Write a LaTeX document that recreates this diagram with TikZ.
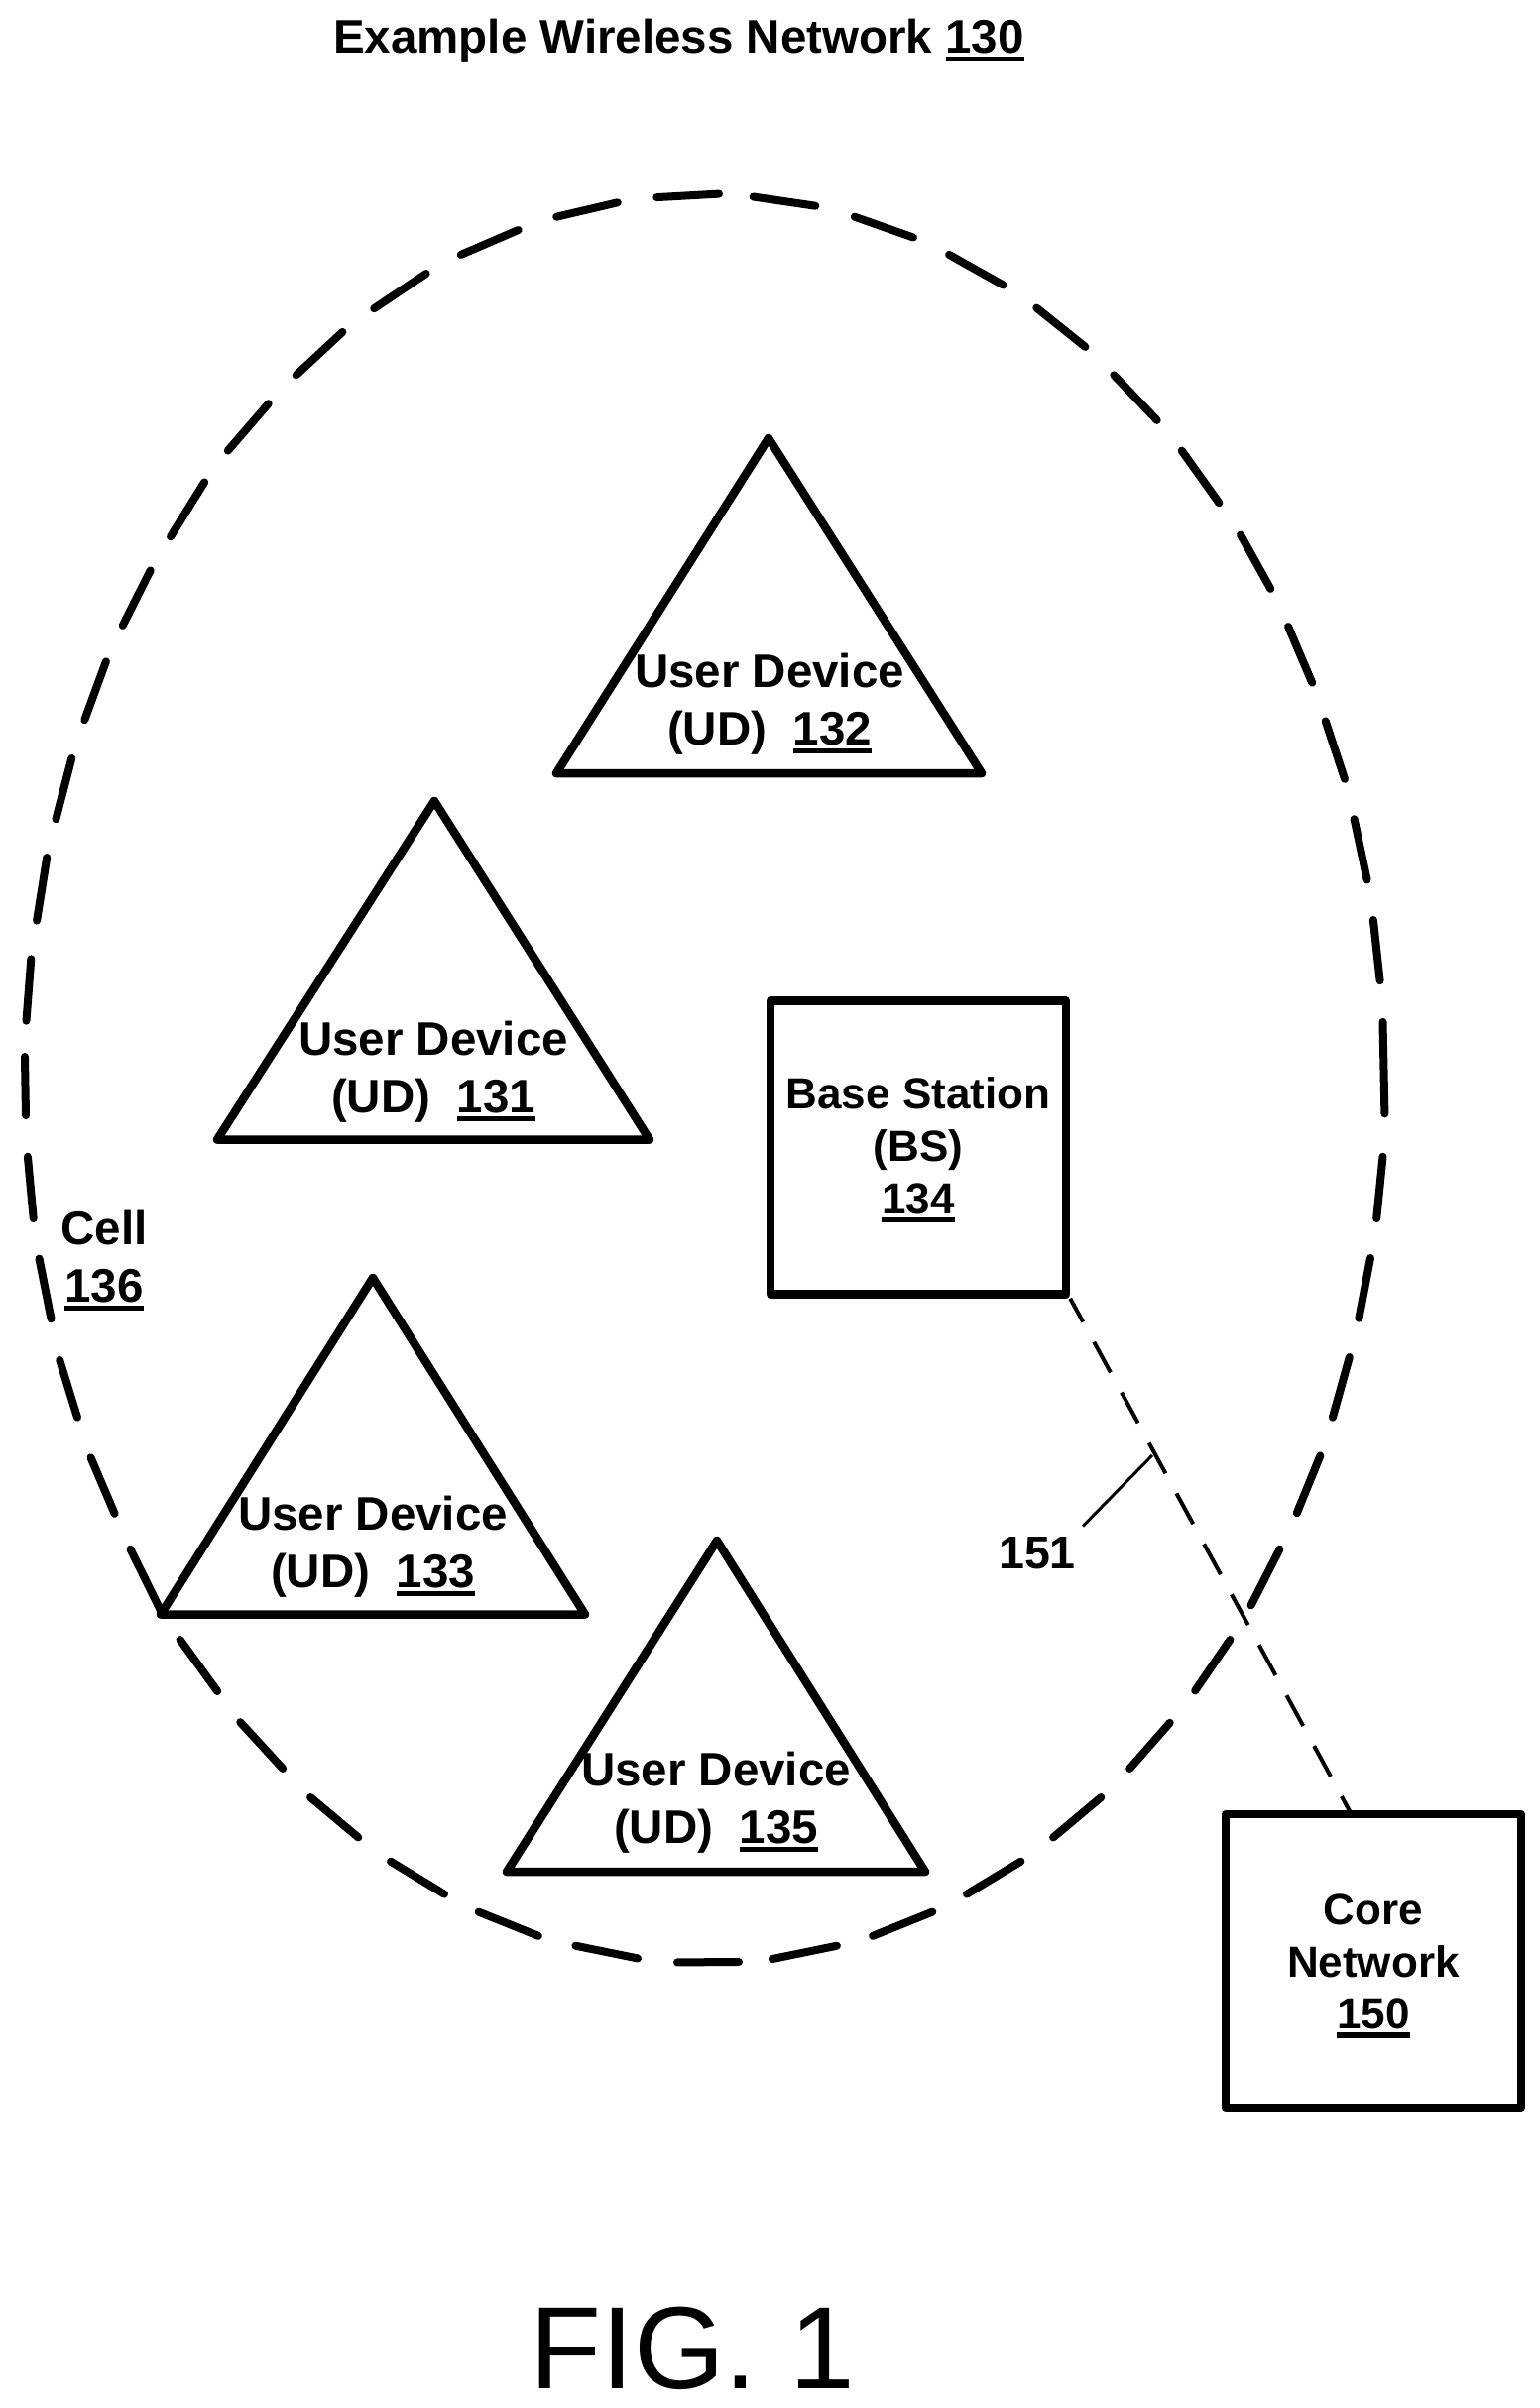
\documentclass[tikz,border=0pt]{standalone}
\usepackage{fontspec}
\setmainfont{Liberation Sans}
\newcommand{\ulnum}[1]{\setbox0\hbox{#1}\rlap{\rule[-9pt]{\wd0}{5.5pt}}\box0}
\newcommand{\bigbf}{\fontsize{47.5}{57.5}\selectfont\bfseries}
\newcommand{\boxbf}{\fontsize{44}{52.7}\selectfont\bfseries}
\tikzset{
  x=1pt,y=1pt,
  tri/.style={draw=black,line width=8.5pt,line join=round,line cap=round},
  cellring/.style={draw=black,line width=8pt,line cap=round},
  boxnode/.style={draw=black,line width=8.5pt,line join=round,minimum width=298pt,minimum height=296pt,inner sep=0pt,align=center,font=\boxbf},
  trilabel/.style={inner sep=0pt,align=center,font=\bigbf},
  plainlabel/.style={inner sep=0pt,align=center},
  link/.style={draw=black,line width=4pt,dash pattern=on 35pt off 23pt,dash phase=8pt},
  leader/.style={draw=black,line width=3pt}
}
\begin{document}
\begin{tikzpicture}
\useasboundingbox (0,0) rectangle (1553,-2429);
\fill[white] (0,0) rectangle (1553,-2429);
\node[plainlabel,anchor=base west,font=\bigbf] (title) at (336,-53) {Example Wireless Network \ulnum{130}};
% cell boundary, dash by dash
\draw[cellring]
 (662.3,-199.1)--(725,-195.6) (759.6,-198.5)--(822.3,-207.7) (861.8,-218.7)--(921,-239.5)
 (957.1,-256.9)--(1011.6,-287.5) (1045.3,-310.6)--(1094.4,-349.9) (1123.3,-378.3)--(1166.7,-423.9)
 (1191.7,-454.6)--(1229.3,-507.2) (1251,-539.5)--(1281.3,-593.9) (1299.1,-632)--(1323.2,-688.7)
 (1336.7,-727.4)--(1356,-785.8) (1365.6,-826.2)--(1378.6,-887.5) (1384.9,-928)--(1391.6,-989.2)
 (1394.5,-1030.9)--(1396.4,-1123.4) (1394.5,-1166.7)--(1388.2,-1229.1) (1382,-1269)--(1370.4,-1329.7)
 (1360.8,-1369)--(1343.9,-1429.7) (1331.4,-1468.4)--(1307.8,-1526.2) (1290.5,-1562.7)--(1261.6,-1619.3)
 (1240.4,-1654)--(1205.2,-1705.4) (1179.7,-1737.8)--(1139.2,-1784) (1110.3,-1813)--(1062.1,-1853.4)
 (1029.4,-1877.7)--(975,-1910.6) (940.3,-1928.6)--(880.1,-1952.8) (843.9,-1962.7)--(778.9,-1976)
 (745,-1979)--(683,-1979.4) (643,-1975.4)--(580.4,-1962.7) (542.9,-1952.8)--(482.7,-1928.6)
 (448,-1910.6)--(394,-1877.7) (361.3,-1853.4)--(313.1,-1813) (285.2,-1784)--(242.3,-1737.2)
 (219.2,-1706)--(181.6,-1654) (162.8,-1626.2)--(131.5,-1562.7) (115.6,-1526.8)--(91.5,-1470.2)
 (78,-1429.7)--(60.2,-1371.9) (51.5,-1330.3)--(39.5,-1269.6) (33.7,-1229.1)--(27.9,-1166.7)
 (26,-1125.1)--(25,-1066) (26.5,-1029.7)--(31.3,-967.3) (37.1,-928.6)--(47.2,-865)
 (56.4,-826.2)--(72.3,-765) (85.3,-726.2)--(106.9,-667.3) (123.8,-630.9)--(151.7,-575.4)
 (172,-541.3)--(206.2,-486.4) (229.8,-454.6)--(270.7,-407.2) (298.7,-378.3)--(345.4,-334.9)
 (377.2,-311.2)--(429.7,-276) (464.8,-256.9)--(522.6,-232) (561.2,-218.7)--(622.8,-204.3);
% triangles
\draw[tri] (775,-442) -- (561,-780) -- (990,-780) -- cycle;
\draw[tri] (438,-808) -- (219,-1149.5) -- (655,-1149.5) -- cycle;
\draw[tri] (376,-1289) -- (162,-1628.5) -- (590,-1628.5) -- cycle;
\draw[tri] (723,-1554) -- (511,-1888) -- (933,-1888) -- cycle;
\node[trilabel] (ud132) at (776,-710) {User Device\\(UD)\ \ \ulnum{132}};
\node[trilabel] (ud131) at (437,-1081) {User Device\\(UD)\ \ \ulnum{131}};
\node[trilabel] (ud133) at (376,-1560) {User Device\\(UD)\ \ \ulnum{133}};
\node[trilabel] (ud135) at (722,-1818) {User Device\\(UD)\ \ \ulnum{135}};
\node[trilabel] (cell) at (105,-1272) {Cell\\\ulnum{136}};
% boxes
\node[boxnode] (bs) at (926,-1157.5) {\rule{0pt}{37pt}Base Station\\(BS)\\\ulnum{134}};
\node[boxnode] (core) at (1384.8,-1978) {\rule{0pt}{41pt}Core\\Network\\\ulnum{150}};
\coordinate (coreentry) at (1362.7,-1830);
\draw[link] (bs.south east) -- (coreentry);
\coordinate (leaderend) at (1162,-1468);
\coordinate (leaderstart) at (1092,-1539.5);
\draw[leader] (leaderstart) -- (leaderend);
\node[plainlabel,anchor=base west,font=\fontsize{46.5}{50}\selectfont\bfseries] (n151) at (1007,-1582) {151};
\node[plainlabel,anchor=base west,font=\fontsize{118}{120}\selectfont] (fig) at (534,-2409) {FIG. 1};
\end{tikzpicture}
\end{document}
